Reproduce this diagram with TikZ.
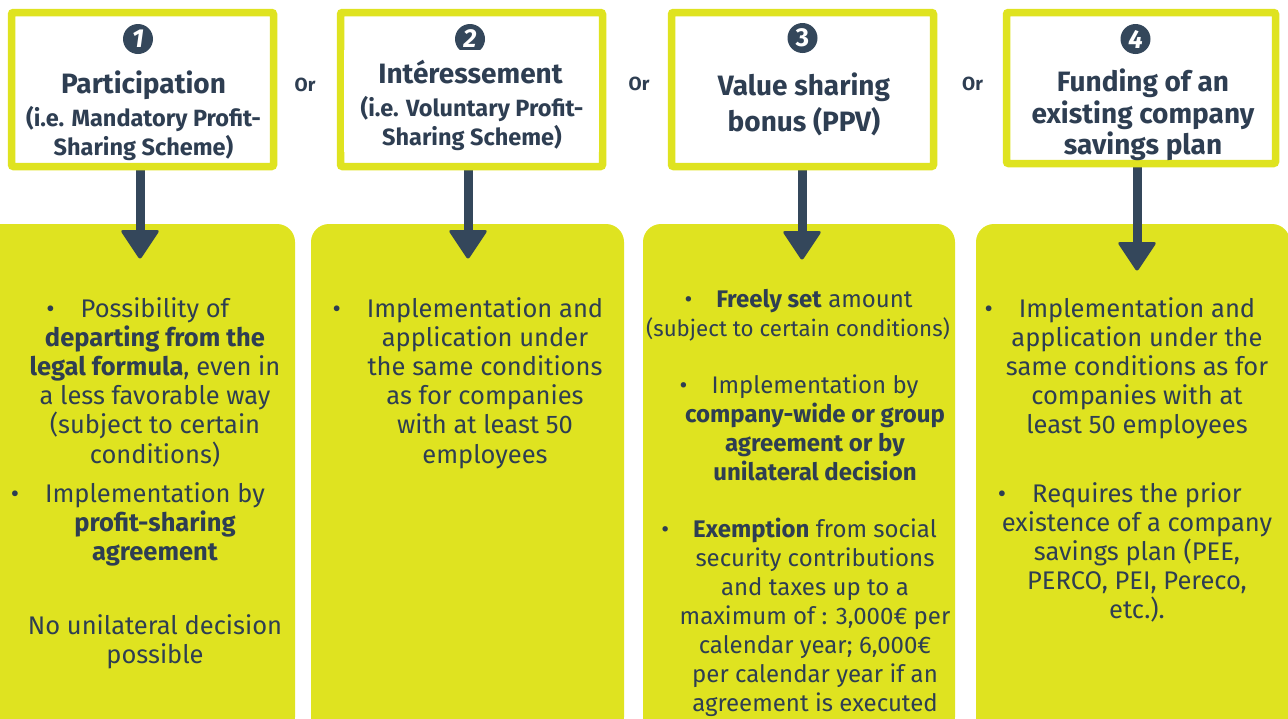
\documentclass[tikz,border=0pt]{standalone}
\usepackage{fontspec}
\setmainfont{Fira Sans}
\usetikzlibrary{calc}
\definecolor{lime}{RGB}{223,227,32}
\definecolor{slate}{RGB}{52,71,91}
\definecolor{ink}{RGB}{46,62,82}
\newcommand{\bul}[1]{\llap{\textbullet\hspace{#1}}}
\pgfdeclarelayer{under}
\pgfsetlayers{under,main}
\begin{document}
\begin{tikzpicture}[x=1pt,y=-1pt,
  hdr/.style={draw=lime, line width=7.5pt, fill=white, rounded corners=2pt, inner sep=0pt, outer sep=0pt},
  panel/.style={fill=lime, rounded corners=18pt, inner sep=0pt, outer sep=0pt},
  numc/.style={circle, fill=slate, text=white, minimum size=30pt, inner sep=0pt, font=\fontsize{26}{26}\selectfont\bfseries},
  ttl/.style={text=ink, anchor=base, inner sep=0pt, align=center, font=\fontsize{28}{32}\selectfont\bfseries},
  sub/.style={text=ink, anchor=base, inner sep=0pt, align=center, font=\fontsize{23.5}{28.3}\selectfont\bfseries},
  orlbl/.style={text=ink, anchor=base, inner sep=0pt, font=\fontsize{19}{19}\selectfont\bfseries},
  body/.style={text=ink, anchor=base, inner sep=0pt, align=center, font=\fontsize{25.5}{29.2}\selectfont},
  small/.style={text=ink, anchor=base, inner sep=0pt, align=center, font=\fontsize{24}{29}\selectfont},
  bar/.style={draw=slate, line width=9pt},
  head/.style={fill=slate, rounded corners=3pt}
]
\useasboundingbox (0,0) rectangle (1288,718);
\clip (0,0) rectangle (1288,718);

% header boxes
\node[hdr, minimum width=262pt, minimum height=154pt] (h1) at (142.5,89.5) {};
\node[hdr, minimum width=262pt, minimum height=154pt] (h2) at (471.5,89.5) {};
\node[hdr, minimum width=262pt, minimum height=154pt] (h3) at (802.5,89.5) {};
\node[hdr, minimum width=269pt, minimum height=151pt] (h4) at (1141,88) {};

% arrow bases
\coordinate (b1) at (140,230);
\coordinate (b2) at (468,230);
\coordinate (b3) at (802,231);
\coordinate (b4) at (1137,242);

\begin{pgfonlayer}{under}
  % lower panels
  \node[panel, minimum width=315pt, minimum height=511pt] (pA) at (137.5,479.5) {};
  \node[panel, minimum width=313pt, minimum height=511pt] (pB) at (467.5,479.5) {};
  \node[panel, minimum width=312pt, minimum height=511pt] (pC) at (799,479.5) {};
  \node[panel, minimum width=314pt, minimum height=511pt] (pD) at (1133,479.5) {};
  % connectors with their heads
  \foreach \i in {1,2,3,4}{
    \draw[bar] (h\i.south -| b\i) -- (b\i);
    \fill[head] (b\i) +(-20,0) -- +(20,0) -- +(0,30) -- cycle;
  }
\end{pgfonlayer}

% number badges
\node[numc] (n1) at (138,39) {\itshape 1};
\node[numc] (n2) at (470,39) {\itshape 2};
\node[numc] (n3) at (802.5,38) {3};
\node[numc] (n4) at (1135.5,39) {\itshape 4};
\node[fill=white, inner sep=0pt, minimum width=255pt, minimum height=102pt] (c2) at (471.5,101) {};

% titles (base anchor = last line baseline)
\node[ttl] (t1) at (143.5,93) {Participation};
\node[sub] (s1) at (143.5,155) {(i.e. Mandatory Profit-\\Sharing Scheme)};
\node[ttl] (t2) at (470.5,83) {Intéressement};
\node[sub] (s2) at (472,145) {(i.e. Voluntary Profit-\\Sharing Scheme)};
\node[ttl, font=\fontsize{28}{36.7}\selectfont\bfseries] (t3) at (804,131.7) {Value sharing\\bonus (PPV)};
\node[ttl, font=\fontsize{28}{31.7}\selectfont\bfseries] (t4) at (1143,154.9) {Funding of an\\existing company\\savings plan};

% separators
\node[orlbl] (o1) at (305,91) {Or};
\node[orlbl] (o2) at (639,90) {Or};
\node[orlbl] (o3) at (972.5,90) {Or};

% panel texts
\node[body] (a1) at (155,463) {\bul{26pt}Possibility of\\\textbf{departing from the}\\\textbf{legal formula}, even in\\a less favorable way\\(subject to certain\\conditions)};
\node[body] (a2) at (155,560.4) {\bul{26pt}Implementation by\\\textbf{profit-sharing}\\\textbf{agreement}};
\node[body] (a3) at (155,663.2) {No unilateral decision\\possible};

\node[body] (bb) at (485,463) {\bul{26pt}Implementation and\\application under\\the same conditions\\as for companies\\with at least 50\\employees};

\node[small] (c1) at (814.5,307) {\bul{24pt}\textbf{Freely set} amount};
\node[small, font=\fontsize{22.3}{29}\selectfont] (c1b) at (798,336) {(subject to certain conditions)};
\node[small] (cc2) at (815,480) {\bul{24pt}Implementation by\\\textbf{company-wide or group}\\\textbf{agreement or by}\\\textbf{unilateral decision}};
\node[small] (cc3) at (815,711) {\bul{24pt}\textbf{Exemption} from social\\security contributions\\and taxes up to a\\maximum of : 3,000€ per\\calendar year; 6,000€\\per calendar year if an\\agreement is executed};

\node[body] (d1) at (1137,433.8) {\bul{26pt}Implementation and\\application under the\\same conditions as for\\companies with at\\least 50 employees};
\node[body] (d2) at (1137,618.8) {\bul{26pt}Requires the prior\\existence of a company\\savings plan (PEE,\\PERCO, PEI, Pereco,\\etc.).};
\end{tikzpicture}
\end{document}
